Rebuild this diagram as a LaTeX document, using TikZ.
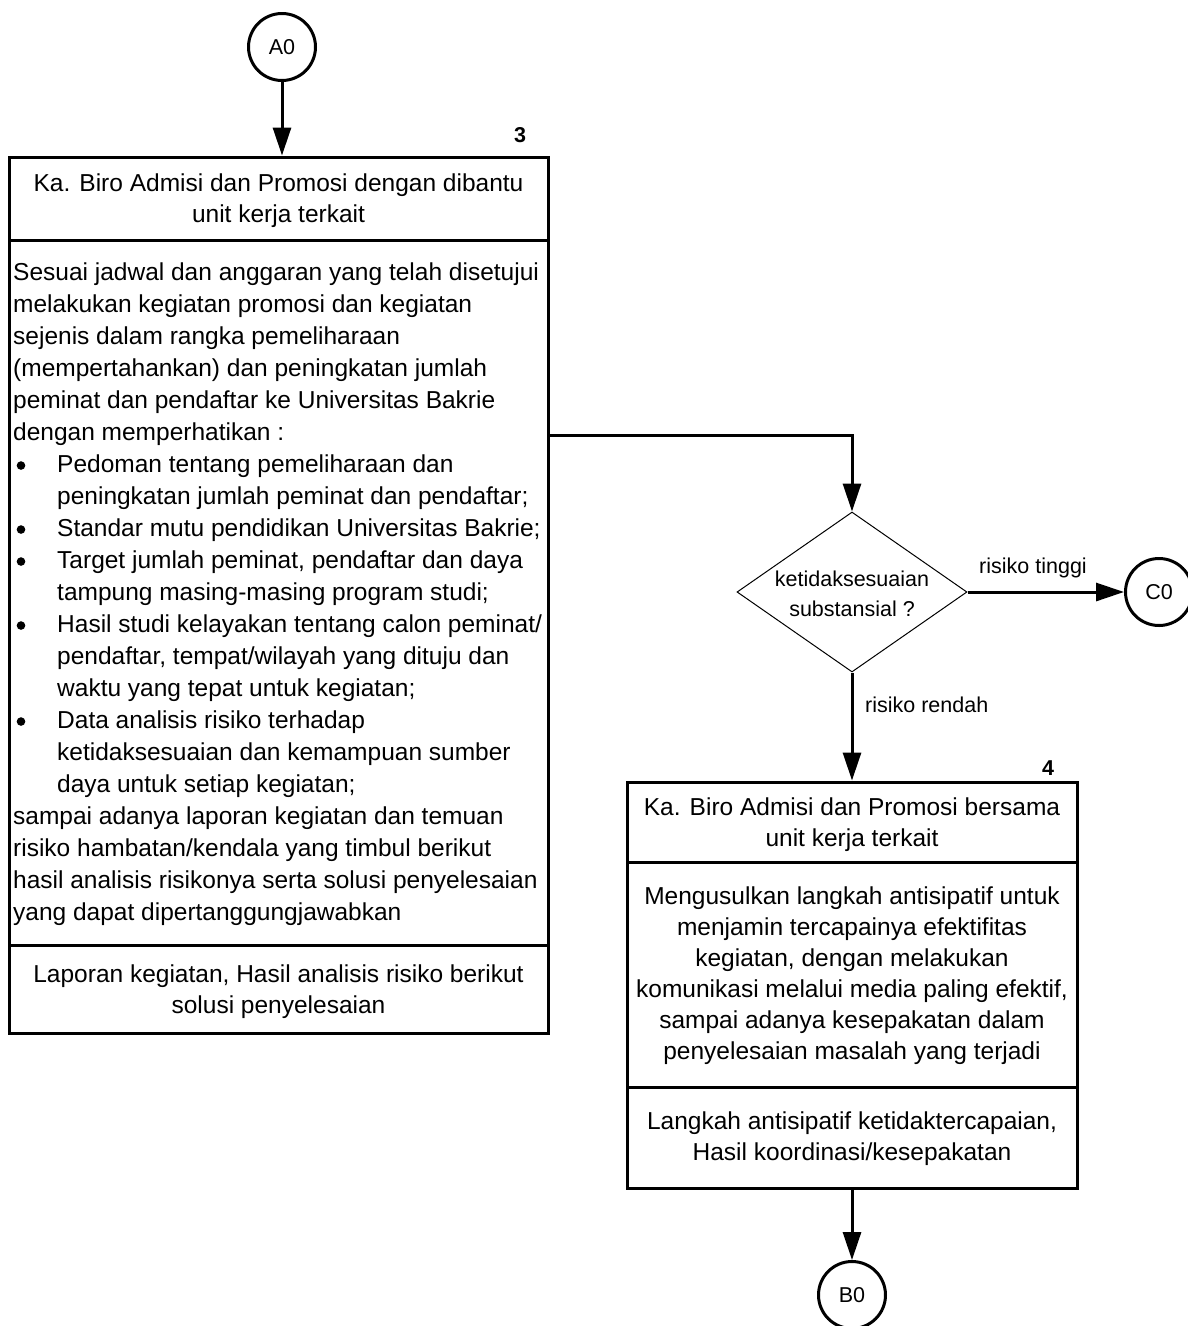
\documentclass[tikz,border=0pt]{standalone}
\usepackage{fontspec}
\setmainfont{Liberation Sans}
\usetikzlibrary{arrows.meta,shapes.geometric}
\newcommand{\bdot}{\makebox[44pt][l]{\hspace{3.5pt}\tikz[baseline=0pt]\fill (0pt,6.8pt) circle[radius=4.3pt];}}
\newcommand{\bind}{\hspace*{44pt}}
\begin{document}
\begin{tikzpicture}[x=1pt,y=-1pt,
  boxr/.style={draw, line width=3pt, inner sep=0pt},
  txt/.style={inner sep=0pt, align=center, font=\fontsize{24.5}{31}\selectfont},
  conn/.style={circle, draw, line width=3pt, minimum size=67pt, inner sep=0pt,
    font=\fontsize{21.5}{26}\selectfont},
  arr/.style={line width=3pt, -{Triangle[length=28pt,width=18pt]}},
  lbl/.style={inner sep=0pt, font=\fontsize{21.5}{26}\selectfont},
  num/.style={inner sep=0pt, font=\fontsize{21.5}{26}\selectfont\bfseries}]
\useasboundingbox (0,0) rectangle (1187,1326);

% connectors (circles)
\node[conn] (A0) at (282,47) {A0};
\node[conn] (C0) at (1159,592) {C0};
\node[conn] (B0) at (852,1295) {B0};

% box 3
\node[num] (n3) at (520,135) {3};
\node[boxr, minimum width=539pt, minimum height=83pt] (h1) at (278.5,198.5) {};
\node[boxr, minimum width=539pt, minimum height=705pt] (b1) at (278.5,592.5) {};
\node[boxr, minimum width=539pt, minimum height=88pt] (o1) at (278.5,989) {};
\node[txt] (th1) at (278.5,201) {Ka. Biro Admisi dan Promosi dengan dibantu\\unit kerja terkait};
\node[txt, anchor=west, align=left, font=\fontsize{24.5}{32}\selectfont] (tb1) at (13,594)
  {Sesuai jadwal dan anggaran yang telah disetujui\\
   melakukan kegiatan promosi dan kegiatan\\
   sejenis dalam rangka pemeliharaan\\
   (mempertahankan) dan peningkatan jumlah\\
   peminat dan pendaftar ke Universitas Bakrie\\
   dengan memperhatikan :\\
   \bdot Pedoman tentang pemeliharaan dan\\
   \bind peningkatan jumlah peminat dan pendaftar;\\
   \bdot Standar mutu pendidikan Universitas Bakrie;\\
   \bdot Target jumlah peminat, pendaftar dan daya\\
   \bind tampung masing-masing program studi;\\
   \bdot Hasil studi kelayakan tentang calon peminat/\\
   \bind pendaftar, tempat/wilayah yang dituju dan\\
   \bind waktu yang tepat untuk kegiatan;\\
   \bdot Data analisis risiko terhadap\\
   \bind ketidaksesuaian dan kemampuan sumber\\
   \bind daya untuk setiap kegiatan;\\
   sampai adanya laporan kegiatan dan temuan\\
   risiko hambatan/kendala yang timbul berikut\\
   hasil analisis risikonya serta solusi penyelesaian\\
   yang dapat dipertanggungjawabkan};
\node[txt] (to1) at (278.5,992) {Laporan kegiatan, Hasil analisis risiko berikut\\solusi penyelesaian};

% decision
\node[diamond, draw, line width=1pt, minimum width=230pt, minimum height=160pt, inner sep=0pt] (d) at (852,592) {};
\node[lbl, align=center, font=\fontsize{21.5}{30}\selectfont] (td) at (852,594) {ketidaksesuaian\\substansial ?};

% box 4
\node[num] (n4) at (1048,768) {4};
\node[boxr, minimum width=450pt, minimum height=80pt] (h4) at (852,822) {};
\node[boxr, minimum width=450pt, minimum height=225pt] (b4) at (852,974.5) {};
\node[boxr, minimum width=450pt, minimum height=101pt] (o4) at (852,1137.5) {};
\node[txt] (th4) at (852,824.5) {Ka. Biro Admisi dan Promosi bersama\\unit kerja terkait};
\node[txt] (tb4) at (852,976)
  {Mengusulkan langkah antisipatif untuk\\
   menjamin tercapainya efektifitas\\
   kegiatan, dengan melakukan\\
   komunikasi melalui media paling efektif,\\
   sampai adanya kesepakatan dalam\\
   penyelesaian masalah yang terjadi};
\node[txt] (to4) at (852,1138.5) {Langkah antisipatif ketidaktercapaian,\\Hasil koordinasi/kesepakatan};

% arrows
\draw[arr] (A0) -- (h1.north -| A0);
\coordinate (b1out) at (548,435);
\draw[arr] (b1out) -| (d.north);
\draw[arr] (d.east) -- (C0.west);
\node[lbl] (lt) at (1033,568) {risiko tinggi};
\draw[arr] (d.south) -- (h4.north);
\node[lbl, anchor=west] (lr) at (865,705) {risiko rendah};
\draw[arr] (o4.south) -- (B0.north);
\end{tikzpicture}
\end{document}
